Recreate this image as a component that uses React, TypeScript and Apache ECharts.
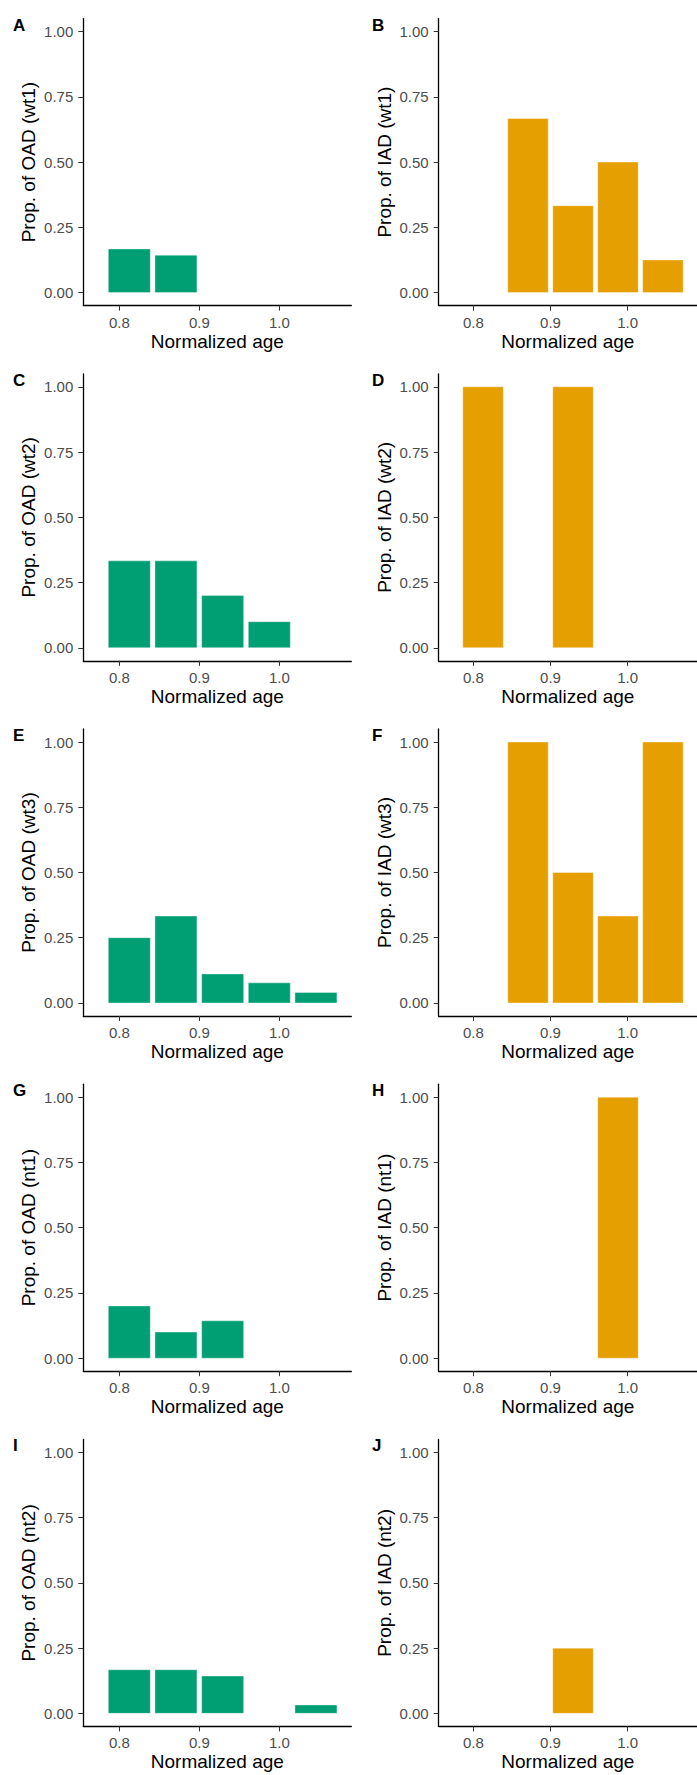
import React, { useEffect, useRef } from "react";
import * as echarts from "echarts";

// Bin centres on the "Normalized age" axis (histogram-like bars)
const BIN_CENTERS = [0.8125, 0.8708, 0.9292, 0.9875, 1.0458];
const BAR_WIDTH = 0.0525;

const X_TICKS = [0.8, 0.9, 1.0];
const Y_TICKS = [0, 0.25, 0.5, 0.75, 1.0];

const PANEL_LETTERS = ["A", "B", "C", "D", "E", "F", "G", "H", "I", "J"];
const Y_TITLES = [
  "Prop. of OAD (wt1)",
  "Prop. of IAD (wt1)",
  "Prop. of OAD (wt2)",
  "Prop. of IAD (wt2)",
  "Prop. of OAD (wt3)",
  "Prop. of IAD (wt3)",
  "Prop. of OAD (nt1)",
  "Prop. of IAD (nt1)",
  "Prop. of OAD (nt2)",
  "Prop. of IAD (nt2)",
];
const X_TITLE = "Normalized age";

// Proportions per bin (one array per panel)
const oadWt1 = [0.167, 0.143, 0, 0, 0];
const iadWt1 = [0, 0.667, 0.333, 0.5, 0.125];
const oadWt2 = [0.333, 0.333, 0.2, 0.1, 0];
const iadWt2 = [1.0, 0, 1.0, 0, 0];
const oadWt3 = [0.25, 0.333, 0.111, 0.077, 0.04];
const iadWt3 = [0, 1.0, 0.5, 0.333, 1.0];
const oadNt1 = [0.2, 0.1, 0.143, 0, 0];
const iadNt1 = [0, 0, 0, 1.0, 0];
const oadNt2 = [0.167, 0.167, 0.143, 0, 0.032];
const iadNt2 = [0, 0, 0.25, 0, 0];

const PANEL_VALUES = [
  oadWt1, iadWt1, oadWt2, iadWt2, oadWt3, iadWt3, oadNt1, iadNt1, oadNt2, iadNt2,
];

const GREEN = "#009E73";
const ORANGE = "#E69F00";
const FONT = "'Liberation Sans', Arial, Helvetica, sans-serif";

export default function App() {
  const ref = useRef<HTMLDivElement>(null);

  useEffect(() => {
    if (!ref.current) return;
    const chart = echarts.init(ref.current, undefined, { renderer: "svg" });

    const COL_LEFT = [83.3, 438.7];
    const GRID_W = 268;
    const ROW_TOP0 = 18.6;
    const ROW_STEP = 355.2;
    const GRID_H = 287;

    const grids: any[] = [];
    const xAxes: any[] = [];
    const yAxes: any[] = [];
    const series: any[] = [];
    const graphics: any[] = [];

    PANEL_VALUES.forEach((vals, i) => {
      const col = i % 2;
      const row = Math.floor(i / 2);
      const top = ROW_TOP0 + ROW_STEP * row;
      grids.push({ left: COL_LEFT[col], top, width: GRID_W, height: GRID_H, containLabel: false });
      xAxes.push({
        type: "value",
        gridIndex: i,
        min: 0.755,
        max: 1.09,
        name: X_TITLE,
        nameLocation: "middle",
        nameGap: 26,
        nameTextStyle: { color: "#000", fontSize: 19, fontFamily: FONT },
        axisLine: { show: true, onZero: false, lineStyle: { color: "#000", width: 1.3 } },
        axisTick: { show: true, customValues: X_TICKS, length: 5, lineStyle: { color: "#333", width: 1 } },
        axisLabel: {
          show: true,
          customValues: X_TICKS,
          formatter: (v: number) => v.toFixed(1),
          color: "#4D4D4D",
          fontSize: 15,
          fontFamily: FONT,
          margin: 9,
        },
        splitLine: { show: false },
      });
      yAxes.push({
        type: "value",
        gridIndex: i,
        min: -0.05,
        max: 1.05,
        name: Y_TITLES[i],
        nameLocation: "middle",
        nameRotate: 90,
        nameGap: 45,
        nameTextStyle: { color: "#000", fontSize: 19, fontFamily: FONT },
        axisLine: { show: true, onZero: false, lineStyle: { color: "#000", width: 1.3 } },
        axisTick: { show: true, customValues: Y_TICKS, length: 5, lineStyle: { color: "#333", width: 1 } },
        axisLabel: {
          show: true,
          customValues: Y_TICKS,
          formatter: (v: number) => v.toFixed(2),
          color: "#4D4D4D",
          fontSize: 15,
          fontFamily: FONT,
          margin: 10,
        },
        splitLine: { show: false },
      });
      const color = col === 0 ? GREEN : ORANGE;
      const data = vals
        .map((v, k) => [BIN_CENTERS[k], v])
        .filter((d) => d[1] > 0);
      series.push({
        type: "custom",
        xAxisIndex: i,
        yAxisIndex: i,
        data,
        encode: { x: 0, y: 1 },
        renderItem: (params: any, api: any) => {
          const x = api.value(0);
          const y = api.value(1);
          const p0 = api.coord([x - BAR_WIDTH / 2, y]);
          const p1 = api.coord([x + BAR_WIDTH / 2, 0]);
          return {
            type: "rect",
            shape: { x: p0[0], y: p0[1], width: p1[0] - p0[0], height: p1[1] - p0[1] },
            style: { fill: color, stroke: "rgba(255,255,255,0.6)", lineWidth: 0.6 },
          };
        },
      });
      graphics.push({
        type: "text",
        left: col === 0 ? 13 : 372,
        top: top - 2,
        style: {
          text: PANEL_LETTERS[i],
          fill: "#000",
          font: `bold 17px ${FONT}`,
        },
      });
    });

    chart.setOption({
      animation: false,
      backgroundColor: "#fff",
      textStyle: { fontFamily: FONT },
      grid: grids,
      xAxis: xAxes,
      yAxis: yAxes,
      series,
      graphic: graphics,
    });

    return () => chart.dispose();
  }, []);

  return (
    <div
      style={{
        position: "absolute",
        left: 0,
        top: 0,
        width: 697,
        height: 1775,
        overflow: "hidden",
        background: "#fff",
      }}
    >
      <div ref={ref} style={{ width: 697, height: 1775 }} />
    </div>
  );
}
